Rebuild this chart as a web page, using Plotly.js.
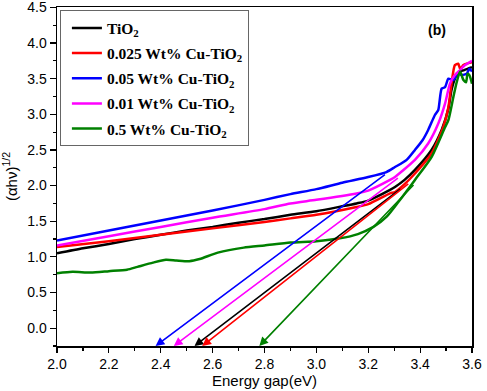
<!DOCTYPE html>
<html>
<head>
<meta charset="utf-8">
<script src="https://cdn.plot.ly/plotly-3.0.1.min.js"></script>
<style>html,body{margin:0;padding:0;background:#fff;}#chart{width:487px;height:391px;}</style>
</head>
<body>
<div id="chart"></div>
<script>
// ---- data ----
var seriesNames = ['TiO<sub>2</sub>', '0.025 Wt% Cu-TiO<sub>2</sub>', '0.05 Wt% Cu-TiO<sub>2</sub>', '0.01 Wt% Cu-TiO<sub>2</sub>', '0.5 Wt% Cu-TiO<sub>2</sub>'];
var seriesColors = ['#000000', '#ff0000', '#0000ff', '#ff00ff', '#008000'];

var tio2X = [2.0,2.1,2.2,2.3,2.4,2.5,2.6,2.7,2.8,2.9,3.0,3.1,3.155,3.2,3.284,3.303,3.34,3.38,3.444,3.483,3.509,3.521,3.534,3.55,3.57,3.6];
var tio2Y = [1.05,1.12,1.18,1.25,1.31,1.37,1.42,1.48,1.53,1.59,1.64,1.71,1.75,1.79,1.94,1.98,2.08,2.22,2.50,2.78,3.08,3.34,3.50,3.60,3.62,3.66];

var cu0025X = [2.0,2.2,2.4,2.6,2.8,2.9,3.0,3.155,3.2,3.284,3.303,3.34,3.38,3.444,3.489,3.509,3.521,3.534,3.547,3.554,3.567,3.58,3.6];
var cu0025Y = [1.14,1.22,1.31,1.40,1.49,1.54,1.59,1.70,1.74,1.89,1.91,2.02,2.17,2.45,2.82,3.10,3.43,3.69,3.71,3.64,3.69,3.71,3.73];

var cu005X = [2.0,2.2,2.4,2.6,2.8,2.9,3.0,3.1,3.2,3.27,3.303,3.348,3.38,3.41,3.431,3.457,3.47,3.483,3.496,3.509,3.528,3.545,3.56,3.58,3.59,3.6];
var cu005Y = [1.23,1.37,1.51,1.65,1.80,1.88,1.95,2.04,2.12,2.19,2.26,2.36,2.50,2.64,2.78,2.99,3.06,3.36,3.38,3.50,3.48,3.58,3.55,3.57,3.64,3.60];

var cu001X = [2.0,2.2,2.4,2.6,2.8,2.9,3.0,3.155,3.2,3.284,3.303,3.33,3.38,3.431,3.47,3.496,3.515,3.534,3.554,3.57,3.6];
var cu001Y = [1.16,1.29,1.42,1.55,1.67,1.75,1.80,1.89,1.93,2.08,2.12,2.20,2.36,2.59,2.87,3.15,3.43,3.55,3.62,3.68,3.75];

var cu05X = [2.0,2.06,2.13,2.2,2.27,2.31,2.37,2.42,2.46,2.51,2.55,2.62,2.72,2.8,2.9,3.0,3.09,3.16,3.22,3.27,3.316,3.38,3.444,3.496,3.509,3.528,3.541,3.554,3.567,3.577,3.583,3.59,3.6];
var cu05Y = [0.77,0.79,0.78,0.80,0.82,0.86,0.92,0.96,0.95,0.94,0.97,1.06,1.13,1.16,1.20,1.22,1.26,1.32,1.42,1.56,1.77,2.08,2.40,2.82,2.92,3.24,3.45,3.60,3.48,3.45,3.57,3.55,3.43];

// tangent (extrapolation) lines: tail point on curve, tip at band-gap intercept
var tangentTailX = [3.33, 3.36, 3.27, 3.32, 3.38];
var tangentTailY = [1.97, 2.04, 2.17, 2.12, 2.03];
var bandGapX     = [2.53, 2.56, 2.38, 2.45, 2.78];
var axisFloorY   = -0.25;

var xTicks = [2.0,2.2,2.4,2.6,2.8,3.0,3.2,3.4,3.6];
var yTicks = [0.0,0.5,1.0,1.5,2.0,2.5,3.0,3.5,4.0,4.5];
var panelLabel = '(b)';
var panelLabelPos = [3.465, 4.18];

// ---- build ----
var xs = [tio2X, cu0025X, cu005X, cu001X, cu05X];
var ys = [tio2Y, cu0025Y, cu005Y, cu001Y, cu05Y];
var traces = [];
for (var i = 0; i < xs.length; i++) {
  traces.push({
    x: xs[i], y: ys[i], type: 'scatter', mode: 'lines', name: seriesNames[i],
    line: {color: seriesColors[i], width: 2.5, shape: 'spline', smoothing: 0.6},
    legendgroup: 'g' + i
  });
}

var annotations = [];
for (var j = 0; j < bandGapX.length; j++) {
  annotations.push({
    x: bandGapX[j], y: axisFloorY, xref: 'x', yref: 'y',
    ax: tangentTailX[j], ay: tangentTailY[j], axref: 'x', ayref: 'y',
    text: '', showarrow: true, arrowhead: 2, arrowsize: 1.1, arrowwidth: 1.6,
    arrowcolor: seriesColors[j], standoff: 0
  });
}
annotations.push({
  x: panelLabelPos[0], y: panelLabelPos[1], xref: 'x', yref: 'y', text: '<b>' + panelLabel + '</b>',
  xanchor: 'center', yanchor: 'middle',
  showarrow: false, font: {family: 'Liberation Sans, Arial', size: 14, color: '#000'}
});

var layout = {
  width: 487, height: 391,
  margin: {l: 57, r: 15, t: 7, b: 45},
  paper_bgcolor: '#fff', plot_bgcolor: '#fff',
  showlegend: true,
  legend: {
    x: 0.007, y: 0.99, xanchor: 'left', yanchor: 'top',
    bgcolor: '#fff', bordercolor: '#666', borderwidth: 1,
    font: {family: 'Liberation Serif, Times New Roman', size: 15.5, color: '#000', weight: 'bold'},
    tracegroupgap: 2, itemwidth: 30, indentation: 6
  },
  xaxis: {
    range: [2.0, 3.6], tickvals: xTicks, ticktext: xTicks.map(function(v){return v.toFixed(1);}),
    ticks: 'outside', ticklen: 5, tickwidth: 1.2, tickcolor: '#000', ticklabeloverflow: 'allow',
    minor: {dtick: 0.1, ticks: 'outside', ticklen: 3, tickwidth: 1.2, tickcolor: '#000', showgrid: false},
    showline: true, linecolor: '#000', linewidth: 1.5, mirror: true,
    showgrid: false, zeroline: false,
    tickfont: {family: 'Liberation Sans, Arial', size: 14, color: '#000'},
    title: {text: 'Energy gap(eV)', font: {family: 'Liberation Sans, Arial', size: 15, color: '#000'}, standoff: 0}
  },
  yaxis: {
    range: [-0.25, 4.505], tickvals: yTicks, ticktext: yTicks.map(function(v){return v.toFixed(1);}),
    ticks: 'outside', ticklen: 6, tickwidth: 1.2, tickcolor: '#000', ticklabeloverflow: 'allow',
    minor: {dtick: 0.25, ticks: 'outside', ticklen: 3, tickwidth: 1.2, tickcolor: '#000', showgrid: false},
    showline: true, linecolor: '#000', linewidth: 1.5, mirror: true,
    showgrid: false, zeroline: false,
    tickfont: {family: 'Liberation Sans, Arial', size: 14, color: '#000'},
    title: {text: '(&#945;h&#957;)<sup>1/2</sup>', font: {family: 'Liberation Sans, Arial', size: 15, color: '#000'}, standoff: 6}
  },
  annotations: annotations
};

Plotly.newPlot('chart', traces, layout, {displayModeBar: false, staticPlot: true});
</script>
</body>
</html>
